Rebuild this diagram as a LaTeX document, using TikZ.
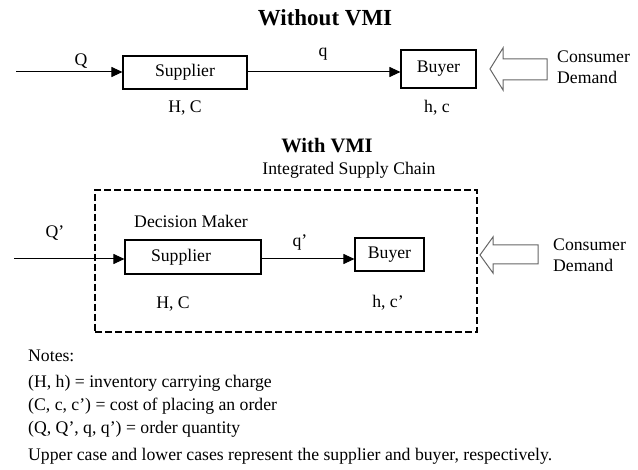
\documentclass[tikz,border=0pt]{standalone}
\usepackage{fontspec}
\setmainfont{Liberation Serif}
\usetikzlibrary{arrows.meta}
\newcommand{\bodyfs}{\fontsize{17.7}{21}\selectfont}
\newcommand{\titleAfs}{\fontsize{23}{26}\selectfont\bfseries}
\newcommand{\titleBfs}{\fontsize{20.5}{24}\selectfont\bfseries}
\begin{document}
\begin{tikzpicture}[x=1pt,y=-1pt,
  txt/.style={font=\bodyfs, inner sep=0pt},
  note/.style={font=\bodyfs, inner sep=0pt, anchor=west},
  box/.style={draw, line width=1.1pt, inner sep=0pt, font=\bodyfs},
  flow/.style={line width=1pt, -{Triangle[length=11pt,width=10pt]}},
  hollow/.style={draw=black!60, line width=1pt, line join=miter},
  dashbox/.style={draw, line width=1.1pt, dash pattern=on 7pt off 3pt, inner sep=0pt},
  demand/.style={font=\bodyfs, inner sep=0pt, align=left, anchor=west}]
\useasboundingbox (0,0) rectangle (638,470);

% ---------- Without VMI ----------
\node[font=\titleAfs, inner sep=0pt] (t1) at (325,18) {Without VMI};
\node[box, minimum width=124pt, minimum height=33pt] (s1) at (185,72.5) {Supplier};
\node[box, minimum width=75pt, minimum height=38pt] (b1) at (438.5,69) {Buyer};
\coordinate (in1) at (16,72);
\draw[flow] (in1) -- (in1 -| s1.west);
\draw[flow] (s1.east |- in1) -- (b1.west |- in1);
\node[txt] (Q1) at (81,61) {Q};
\node[txt] (q1) at (323,54) {q};
\draw[hollow] (490,69) -- (503,48) -- (503,59) -- (547,59) -- (547,80) -- (503,80) -- (503,90) -- cycle;
\node[demand] (cd1) at (557,67.5) {Consumer\\Demand};
\node[txt] (hc1) at (185,108) {H, C};
\node[txt] (hc1b) at (437,108) {h, c};

% ---------- With VMI ----------
\node[font=\titleBfs, inner sep=0pt] (t2) at (327,146) {With VMI};
\node[txt] (isc) at (349,170) {Integrated Supply Chain};
\node[dashbox, minimum width=382pt, minimum height=142pt] (frame) at (286,261) {};
\node[txt] (dm) at (191,221) {Decision Maker};
\node[box, minimum width=136pt, minimum height=34pt] (s2) at (193,257) {Supplier\hspace*{24pt}};
\node[box, minimum width=69pt, minimum height=33pt] (b2) at (389.5,254.5) {Buyer};
\coordinate (in2) at (14,259);
\draw[flow] (in2) -- (in2 -| s2.west);
\draw[flow] (s2.east |- in2) -- (b2.west |- in2);
\node[txt] (Q2) at (55,233) {Q’};
\node[txt] (q2) at (300,243) {q’};
\draw[hollow] (480,255) -- (493,237) -- (493,245) -- (538,245) -- (538,264) -- (493,264) -- (493,273) -- cycle;
\node[demand] (cd2) at (553,255) {Consumer\\Demand};
\node[txt] (hc2) at (173,304) {H, C};
\node[txt] (hc2b) at (388,303) {h, c’};

% ---------- Notes ----------
\node[note] (n0) at (28,356) {Notes:};
\node[note] (n1) at (28,383) {(H, h) = inventory carrying charge};
\node[note] (n2) at (28,406) {(C, c, c’) = cost of placing an order};
\node[note] (n3) at (28,429) {(Q, Q’, q, q’) = order quantity};
\node[note] (n4) at (28,456) {Upper case and lower cases represent the supplier and buyer, respectively.};
\end{tikzpicture}
\end{document}
